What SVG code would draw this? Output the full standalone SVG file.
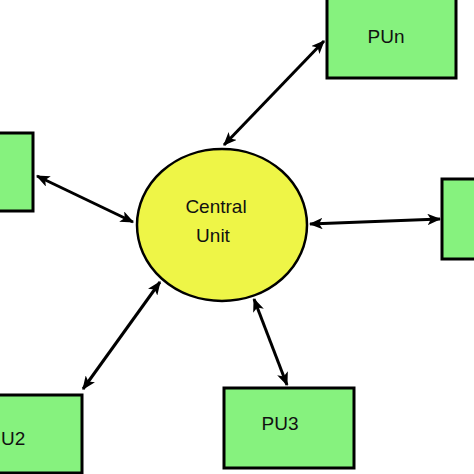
<svg xmlns="http://www.w3.org/2000/svg" width="474" height="474" viewBox="0 0 474 474">
<style>
.box{fill:#86f27e;stroke:#000;stroke-width:3}
.cu{fill:#eef547;stroke:#000;stroke-width:2.5}
.t{font-family:"Liberation Sans",Arial,sans-serif;font-size:19px;fill:#111;text-anchor:middle}
.c{stroke:#000;stroke-width:3;fill:none;marker-start:url(#ah);marker-end:url(#ah)}
</style>
<defs>
<marker id="ah" viewBox="0 0 12 10" refX="11" refY="5" markerWidth="4.6" markerHeight="3.8" orient="auto-start-reverse" markerUnits="strokeWidth">
<path d="M0,0 L12,5 L0,10 L3,5 Z" fill="#000"/>
</marker>
</defs>
<g id="connectors">
<line class="c" x1="37" y1="176" x2="133" y2="222"/>
<line class="c" x1="324" y1="41" x2="224" y2="145"/>
<line class="c" x1="310" y1="224" x2="440" y2="219"/>
<line class="c" x1="160" y1="282" x2="83" y2="389"/>
<line class="c" x1="254" y1="299" x2="287" y2="385"/>
</g>
<g id="central">
<ellipse class="cu" cx="222" cy="225" rx="85" ry="76"/>
<text class="t" x="216" y="213">Central</text>
<text class="t" x="213" y="242">Unit</text>
</g>
<g id="pu1">
<rect class="box" x="-10" y="133" width="43" height="78"/>
</g>
<g id="pun">
<rect class="box" x="327" y="-2" width="129" height="80"/>
<text class="t" x="386" y="43">PUn</text>
</g>
<g id="pu4">
<rect class="box" x="442" y="179" width="40" height="80"/>
</g>
<g id="pu2">
<rect class="box" x="-50" y="395" width="132" height="78"/>
<text class="t" x="1" y="445" style="text-anchor:start">U2</text>
</g>
<g id="pu3">
<rect class="box" x="224" y="388" width="130" height="80"/>
<text class="t" x="280" y="430">PU3</text>
</g>
</svg>
